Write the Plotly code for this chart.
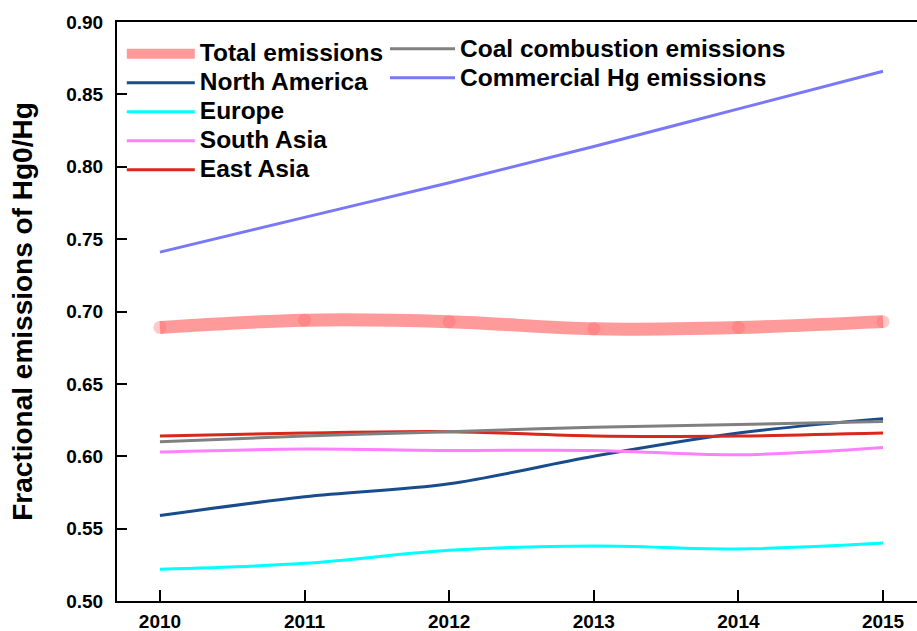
import plotly.graph_objects as go

years = [2010, 2011, 2012, 2013, 2014, 2015]

total_emissions = [0.689, 0.694, 0.693, 0.688, 0.689, 0.693]
north_america = [0.559, 0.572, 0.581, 0.600, 0.616, 0.626]
europe = [0.522, 0.526, 0.535, 0.538, 0.536, 0.540]
south_asia = [0.603, 0.605, 0.604, 0.604, 0.601, 0.606]
east_asia = [0.614, 0.616, 0.617, 0.614, 0.614, 0.616]
coal_combustion = [0.610, 0.614, 0.617, 0.620, 0.622, 0.624]
commercial_hg = [0.741, 0.765, 0.789, 0.814, 0.840, 0.866]

y_ticks = [0.50, 0.55, 0.60, 0.65, 0.70, 0.75, 0.80, 0.85, 0.90]

FONT = "Liberation Sans, Arial, sans-serif"


def label(text):
    return f"<span style='font-size:24.5px'>{text}</span>"


fig = go.Figure()

# left legend column
fig.add_trace(go.Scatter(
    x=years, y=total_emissions, name=label("Total emissions"), mode="lines",
    line=dict(color="rgba(255,120,120,0.75)", width=13, shape="spline"),
    legend="legend"))
fig.add_trace(go.Scatter(
    x=years, y=total_emissions, mode="markers", showlegend=False,
    marker=dict(color="rgba(255,100,100,0.35)", size=13, line=dict(width=0)),
    hoverinfo="skip"))
fig.add_trace(go.Scatter(
    x=years, y=north_america, name=label("North America"), mode="lines",
    line=dict(color="#184C8C", width=3, shape="spline"), legend="legend"))
fig.add_trace(go.Scatter(
    x=years, y=europe, name=label("Europe"), mode="lines",
    line=dict(color="#00FFFF", width=3, shape="spline"), legend="legend"))
fig.add_trace(go.Scatter(
    x=years, y=south_asia, name=label("South Asia"), mode="lines",
    line=dict(color="#FF80FF", width=3, shape="spline"), legend="legend"))
fig.add_trace(go.Scatter(
    x=years, y=east_asia, name=label("East Asia"), mode="lines",
    line=dict(color="#D8281C", width=3, shape="spline"), legend="legend"))

# right legend column
fig.add_trace(go.Scatter(
    x=years, y=coal_combustion, name=label("Coal combustion emissions"), mode="lines",
    line=dict(color="#808080", width=3, shape="spline"), legend="legend2"))
fig.add_trace(go.Scatter(
    x=years, y=commercial_hg, name=label("Commercial Hg emissions"), mode="lines",
    line=dict(color="#7878F8", width=3, shape="spline"), legend="legend2"))

legend_font = dict(family=FONT, size=20, color="black", weight="bold")
tick_font = dict(family=FONT, size=19, color="black", weight="bold")

fig.update_layout(
    width=917, height=631,
    margin=dict(l=117, r=0, t=22, b=30),
    paper_bgcolor="white", plot_bgcolor="white",
    font=dict(family=FONT, color="black"),
    showlegend=True,
    legend=dict(
        x=0.006, y=0.979, xanchor="left", yanchor="top",
        bgcolor="rgba(0,0,0,0)", font=legend_font,
        tracegroupgap=0, itemwidth=68, traceorder="normal"),
    legend2=dict(
        x=0.335, y=0.9875, xanchor="left", yanchor="top",
        bgcolor="rgba(0,0,0,0)", font=legend_font,
        tracegroupgap=0, itemwidth=65, traceorder="normal"),
    xaxis=dict(
        range=[2009.703, 2015.235], tickmode="array", tickvals=years,
        ticktext=[str(y) for y in years],
        ticks="inside", ticklen=11, tickwidth=2, tickcolor="black",
        showline=True, linecolor="black", linewidth=2, mirror=True,
        showgrid=False, zeroline=False, ticklabelstandoff=2,
        automargin=False, tickfont=tick_font),
    yaxis=dict(
        range=[0.50, 0.90], tickmode="array", tickvals=y_ticks,
        tickformat=".2f",
        ticks="inside", ticklen=10, tickwidth=2, tickcolor="black",
        showline=True, linecolor="black", linewidth=2, mirror=False,
        showgrid=False, zeroline=False, ticklabelstandoff=8,
        automargin=False, tickfont=tick_font,
        title=dict(text="Fractional emissions of Hg0/Hg", standoff=25,
                   font=dict(family=FONT, size=28, color="black", weight="bold"))),
    # tick marks along the right edge of the frame
    yaxis2=dict(
        overlaying="y", side="right", anchor="x",
        range=[0.50, 0.90], tickmode="array", tickvals=y_ticks,
        ticks="inside", ticklen=8, tickwidth=2, tickcolor="black",
        showticklabels=False, showline=False, showgrid=False, zeroline=False,
        automargin=False),
)

fig.write_html("out.html")
